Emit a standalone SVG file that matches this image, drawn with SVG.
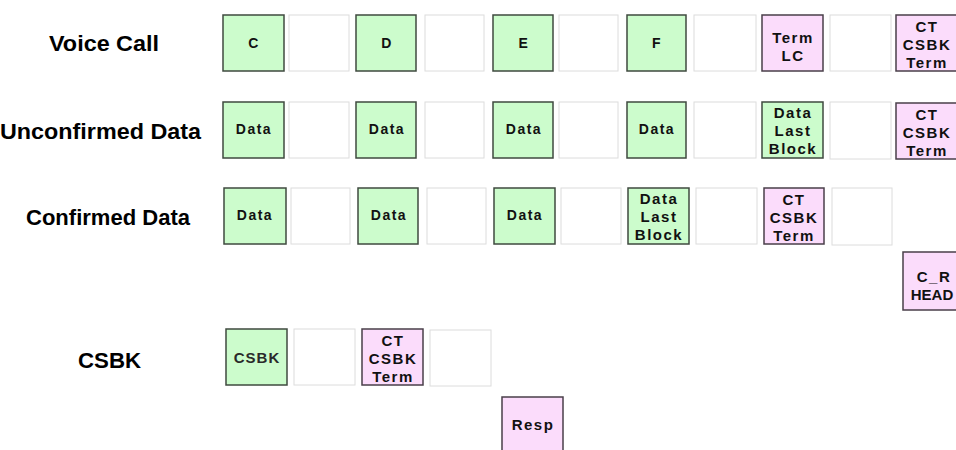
<svg xmlns="http://www.w3.org/2000/svg" width="956" height="450" viewBox="0 0 956 450">
<style>
.g{fill:#ccfccc;stroke:#3f4a3f;stroke-width:1.5}
.p{fill:#fbdcfb;stroke:#4a3f4a;stroke-width:1.5}
.e{fill:#ffffff;stroke:#dcdcdc;stroke-width:1}
.lbl{font-family:"Liberation Sans",Arial,sans-serif;font-weight:bold;font-size:22px;fill:#000}
.t{font-family:"Liberation Sans",Arial,sans-serif;font-weight:bold;font-size:14px;letter-spacing:1.5px;fill:#111;text-anchor:middle}
.m{font-family:"Liberation Sans",Arial,sans-serif;font-weight:bold;font-size:15px;letter-spacing:1.5px;fill:#111;text-anchor:middle}
.r{font-family:"Liberation Sans",Arial,sans-serif;font-weight:bold;font-size:15px;letter-spacing:1px;fill:#2a2a2a;text-anchor:middle}
</style>
<rect width="956" height="450" fill="#ffffff"/>
<g id="labels">
<text class="lbl" x="49" y="51" textLength="110" lengthAdjust="spacingAndGlyphs">Voice Call</text>
<text class="lbl" x="0" y="139" textLength="201" lengthAdjust="spacingAndGlyphs">Unconfirmed Data</text>
<text class="lbl" x="26" y="225" textLength="164" lengthAdjust="spacingAndGlyphs">Confirmed Data</text>
<text class="lbl" x="78" y="368" textLength="63" lengthAdjust="spacingAndGlyphs">CSBK</text>
</g>
<!-- Row 1: Voice Call -->
<g id="vc-c"><rect class="g" x="223" y="15" width="61" height="56"/><text class="t" x="254" y="48">C</text></g>
<g id="vc-e1"><rect class="e" x="289" y="15" width="60" height="56"/></g>
<g id="vc-d"><rect class="g" x="356" y="15" width="60" height="56"/><text class="t" x="387" y="48">D</text></g>
<g id="vc-e2"><rect class="e" x="425" y="15" width="59" height="56"/></g>
<g id="vc-e"><rect class="g" x="493" y="15" width="60" height="56"/><text class="t" x="524" y="48">E</text></g>
<g id="vc-e3"><rect class="e" x="559" y="15" width="59" height="56"/></g>
<g id="vc-f"><rect class="g" x="627" y="15" width="59" height="56"/><text class="t" x="657" y="48">F</text></g>
<g id="vc-e4"><rect class="e" x="694" y="15" width="62" height="56"/></g>
<g id="vc-termlc"><rect class="p" x="762" y="15" width="61" height="56"/><text class="m" x="793" y="43">Term</text><text class="m" x="793" y="61">LC</text></g>
<g id="vc-e5"><rect class="e" x="830" y="15" width="61" height="56"/></g>
<g id="vc-ct"><rect class="p" x="896" y="15" width="61" height="56"/><text class="m" x="927" y="32">CT</text><text class="m" x="927" y="50">CSBK</text><text class="m" x="927" y="68">Term</text></g>
<!-- Row 2: Unconfirmed Data -->
<g id="ud-d1"><rect class="g" x="223" y="102" width="61" height="56"/><text class="t" x="254" y="134">Data</text></g>
<g id="ud-e1"><rect class="e" x="289" y="102" width="60" height="56"/></g>
<g id="ud-d2"><rect class="g" x="356" y="102" width="60" height="56"/><text class="t" x="387" y="134">Data</text></g>
<g id="ud-e2"><rect class="e" x="425" y="102" width="59" height="56"/></g>
<g id="ud-d3"><rect class="g" x="493" y="102" width="60" height="56"/><text class="t" x="524" y="134">Data</text></g>
<g id="ud-e3"><rect class="e" x="559" y="102" width="59" height="56"/></g>
<g id="ud-d4"><rect class="g" x="627" y="102" width="59" height="56"/><text class="t" x="657" y="134">Data</text></g>
<g id="ud-e4"><rect class="e" x="694" y="102" width="62" height="56"/></g>
<g id="ud-dlb"><rect class="g" x="762" y="102" width="61" height="56"/><text class="m" x="793" y="118">Data</text><text class="m" x="793" y="136">Last</text><text class="m" x="793" y="154">Block</text></g>
<g id="ud-e5"><rect class="e" x="830" y="102" width="61" height="57"/></g>
<g id="ud-ct"><rect class="p" x="896" y="103" width="61" height="56"/><text class="m" x="927" y="120">CT</text><text class="m" x="927" y="138">CSBK</text><text class="m" x="927" y="156">Term</text></g>
<!-- Row 3: Confirmed Data -->
<g id="cd-d1"><rect class="g" x="224" y="188" width="62" height="56"/><text class="t" x="255" y="220">Data</text></g>
<g id="cd-e1"><rect class="e" x="291" y="188" width="59" height="56"/></g>
<g id="cd-d2"><rect class="g" x="358" y="188" width="60" height="56"/><text class="t" x="389" y="220">Data</text></g>
<g id="cd-e2"><rect class="e" x="427" y="188" width="59" height="56"/></g>
<g id="cd-d3"><rect class="g" x="494" y="188" width="61" height="56"/><text class="t" x="525" y="220">Data</text></g>
<g id="cd-e3"><rect class="e" x="561" y="188" width="60" height="56"/></g>
<g id="cd-dlb"><rect class="g" x="628" y="188" width="61" height="56"/><text class="m" x="659" y="204">Data</text><text class="m" x="659" y="222">Last</text><text class="m" x="659" y="240">Block</text></g>
<g id="cd-e4"><rect class="e" x="696" y="188" width="61" height="56"/></g>
<g id="cd-ct"><rect class="p" x="764" y="188" width="60" height="56"/><text class="m" x="794" y="205">CT</text><text class="m" x="794" y="223">CSBK</text><text class="m" x="794" y="241">Term</text></g>
<g id="cd-e5"><rect class="e" x="832" y="188" width="60" height="57"/></g>
<g id="cd-crhead"><rect class="p" x="903" y="252" width="61" height="58"/><text class="m" x="934" y="282">C_R</text><text class="m" x="932" y="300" style="letter-spacing:0">HEAD</text></g>
<!-- Row 4: CSBK -->
<g id="cs-csbk"><rect class="g" x="226" y="329" width="61" height="56"/><text class="r" x="257" y="363">CSBK</text></g>
<g id="cs-e1"><rect class="e" x="294" y="329" width="61" height="56"/></g>
<g id="cs-ct"><rect class="p" x="362" y="329" width="61" height="56"/><text class="m" x="393" y="346">CT</text><text class="m" x="393" y="364">CSBK</text><text class="m" x="393" y="382">Term</text></g>
<g id="cs-e2"><rect class="e" x="430" y="330" width="61" height="56"/></g>
<g id="cs-resp"><rect class="p" x="502" y="397" width="61" height="56"/><text class="m" x="533" y="430">Resp</text></g>
<g id="connectors"></g>
</svg>
